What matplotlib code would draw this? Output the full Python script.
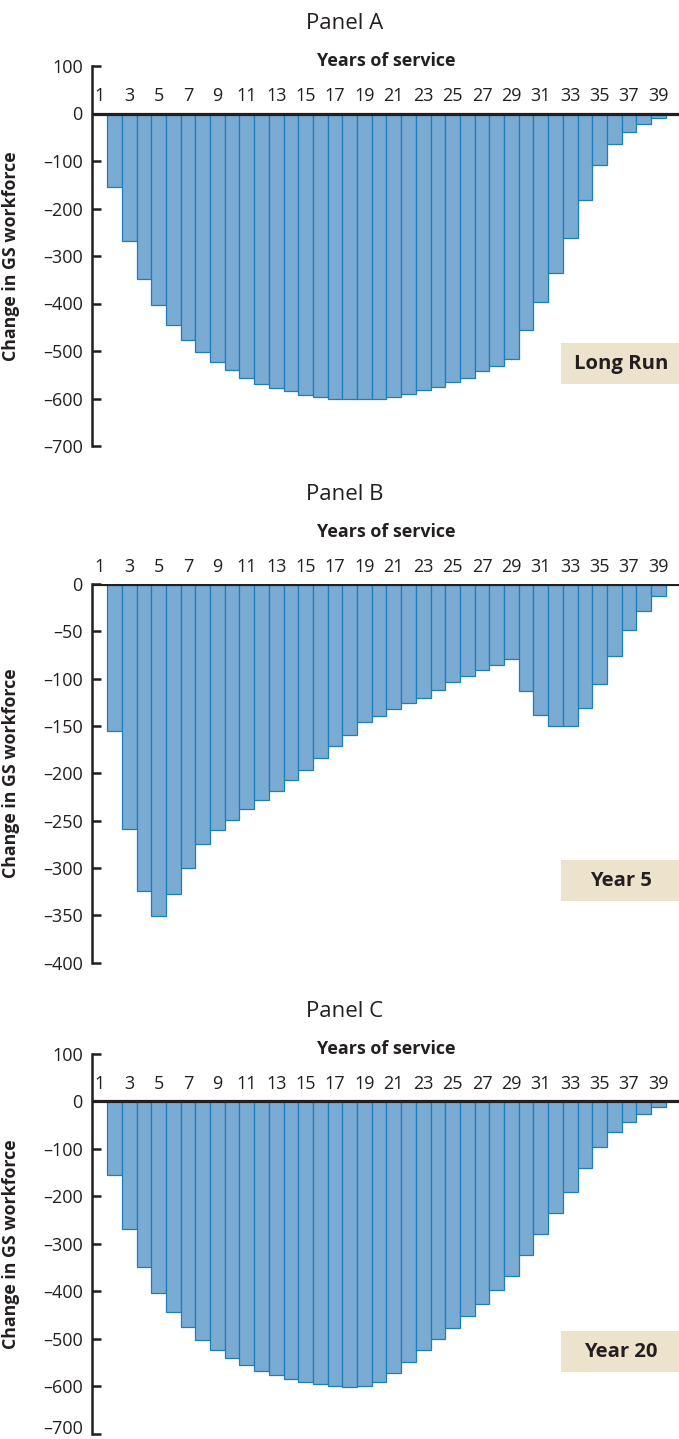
import matplotlib
matplotlib.use("Agg")
import matplotlib.pyplot as plt
from matplotlib.patches import Rectangle

plt.rcParams['font.family'] = ['Open Sans', 'DejaVu Sans']

years = list(range(2, 40))
year_labels = list(range(1, 40, 2))

long_run = [-155, -269, -349, -404, -445, -477, -503, -524, -541, -556, -569, -578,
            -585, -592, -597, -600, -602, -602, -600, -596, -591, -583, -576, -566,
            -556, -543, -531, -517, -455, -397, -335, -263, -182, -109, -65, -39, -22, -10]
year5 = [-155, -259, -324, -351, -327, -300, -275, -260, -249, -238, -228, -219,
         -207, -196, -184, -171, -159, -146, -139, -132, -126, -120, -112, -104,
         -97, -91, -86, -79, -113, -138, -150, -150, -131, -106, -76, -49, -28, -13]
year20 = [-155, -269, -349, -404, -444, -476, -502, -523, -541, -556, -568, -577,
          -585, -591, -596, -599, -601, -599, -592, -572, -549, -524, -501, -477,
          -451, -426, -398, -368, -323, -280, -236, -190, -141, -96, -65, -43, -26, -12]

panels = [
    dict(title="Panel A", tag="Long Run", data=long_run, ylim=(-700, 100),
         yticks=list(range(-700, 101, 100)), top=66, bottom=446),
    dict(title="Panel B", tag="Year 5", data=year5, ylim=(-400, 0),
         yticks=list(range(-400, 1, 50)), top=584, bottom=962.7),
    dict(title="Panel C", tag="Year 20", data=year20, ylim=(-700, 100),
         yticks=list(range(-700, 101, 100)), top=1054, bottom=1433.7),
]

W, H = 679, 1439
fig = plt.figure(figsize=(W / 100, H / 100), dpi=100)

dark = '#231f20'
fill = '#7aabd3'
edge = '#1b7fbd'
boxc = '#ede3cc'

left_px = 92.5
for i, p in enumerate(panels):
    ax = fig.add_axes([left_px / W, 1 - p['bottom'] / H, 1 - left_px / W,
                       (p['bottom'] - p['top']) / H])
    ax.bar(years, p['data'], width=1.0, color=fill, edgecolor=edge, linewidth=0.9, zorder=2)
    ax.set_xlim(0.5, 40.4)
    ax.set_ylim(*p['ylim'])
    ax.axhline(0, color=dark, lw=2.3, zorder=3)
    for s in ['top', 'right', 'bottom']:
        ax.spines[s].set_visible(False)
    ax.spines['left'].set_linewidth(1.8)
    ax.spines['left'].set_color(dark)
    ax.set_xticks([])
    ax.set_yticks(p['yticks'])
    labels = ax.set_yticklabels([str(v).replace('-', '\u2013') for v in p['yticks']])
    ax.tick_params(axis='y', direction='in', length=6.5, width=1.8, color=dark,
                   labelsize=13, pad=7, labelcolor=dark)
    if i == len(panels) - 1:
        labels[0].set_verticalalignment('baseline')
    ax.set_ylabel("Change in GS workforce", fontsize=12.8, fontweight='bold', color=dark)
    ax.yaxis.set_label_coords(-0.124, 0.5)
    ax.patch.set_visible(False)

    for yl in year_labels:
        ax.annotate(str(yl), xy=(yl, 0), xytext=(0, 12.5), textcoords='offset points',
                    ha='center', va='center', fontsize=13, color=dark,
                    annotation_clip=False)
    ax.annotate("Years of service", xy=(386 / W, 0), xycoords=('figure fraction', 'data'),
                xytext=(0, 37.8), textcoords='offset points', ha='center', va='center',
                fontsize=12.9, fontweight='bold', color=dark, annotation_clip=False)
    ax.annotate(p['title'], xy=(345 / W, 0), xycoords=('figure fraction', 'data'),
                xytext=(0, 64.8), textcoords='offset points', ha='center', va='center',
                fontsize=16, color=dark, annotation_clip=False)

    bx0 = (561 - left_px) / (W - left_px)
    ax.add_patch(Rectangle((bx0, 0.162), 1 - bx0 + 0.01, 0.108, transform=ax.transAxes,
                           facecolor=boxc, edgecolor='none', clip_on=False, zorder=1))
    ax.text((621 - left_px) / (W - left_px), 0.216, p['tag'], transform=ax.transAxes,
            ha='center', va='center', fontsize=14.6, fontweight='bold', color=dark)

fig.savefig("out.png", dpi=100)
